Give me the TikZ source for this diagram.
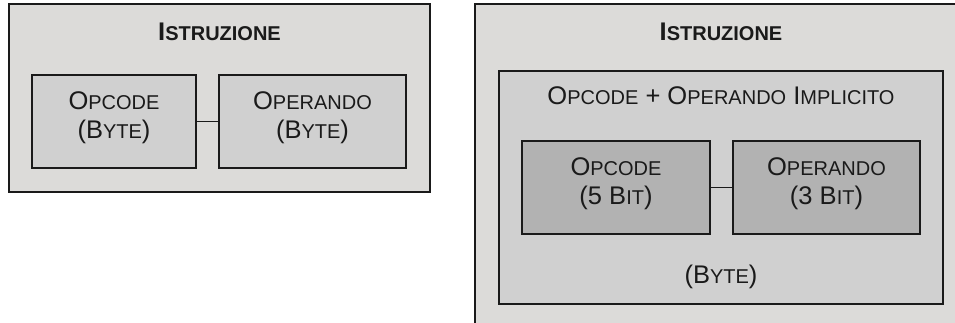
\documentclass[tikz,border=0pt]{standalone}
\usepackage{fontspec}
\setmainfont{Liberation Sans}
% reduced capitals for the small-caps look
\newcommand\smc[1]{{\fontsize{20}{20}\selectfont #1}}
\definecolor{outerfill}{HTML}{DCDBD9}
\definecolor{midfill}{HTML}{D0D0D0}
\definecolor{darkfill}{HTML}{B2B2B2}
\definecolor{ink}{HTML}{1A1A1A}
\tikzset{
  box/.style={draw=ink, line width=1.9pt, rectangle, inner sep=0pt},
  field/.style={box, fill=midfill},
  bitfield/.style={box, fill=darkfill},
  caption/.style={text=ink, align=center, inner sep=0pt,
    font=\fontsize{25.5}{29}\selectfont},
  title/.style={text=ink, inner sep=0pt, font=\bfseries\fontsize{25.5}{29}\selectfont},
  link/.style={draw=ink, line width=1.5pt}
}
\begin{document}
\begin{tikzpicture}[x=1pt,y=1pt]
\useasboundingbox (0,0) rectangle (955,323);
\clip (0,0) rectangle (955,323);
\fill[white] (0,0) rectangle (955,323);

% left: instruction made of two whole bytes
\node[box, fill=outerfill, minimum width=421pt, minimum height=188pt] (instrA) at (219.5,225) {};
\node[title] (titleA) at (219.5,291) {I\smc{STRUZIONE}};
\node[field, minimum width=164pt, minimum height=93pt] (opA) at (114,201.5) {};
\node[field, minimum width=187pt, minimum height=93pt] (argA) at (312.5,201.5) {};
\node[caption, yshift=3.5pt] (opAtext) at (opA.center) {O\smc{PCODE}\\(B\smc{YTE})};
\node[caption, yshift=3.5pt] (argAtext) at (argA.center) {O\smc{PERANDO}\\(B\smc{YTE})};
\draw[link] (opA.east) -- (argA.west);

% right: opcode and implicit operand packed into one byte
\node[box, fill=outerfill, minimum width=490pt, minimum height=331pt] (instrB) at (720,153.5) {};
\node[title] (titleB) at (721,291) {I\smc{STRUZIONE}};
\node[field, minimum width=444pt, minimum height=233pt] (byteB) at (721,135.5) {};
\node[caption] (headB) at (721,227.5) {O\smc{PCODE} + O\smc{PERANDO} I\smc{MPLICITO}};
\node[bitfield, minimum width=188pt, minimum height=93pt] (opB) at (616,135.5) {};
\node[bitfield, minimum width=187pt, minimum height=93pt] (argB) at (826.5,135.5) {};
\node[caption, yshift=3.5pt] (opBtext) at (opB.center) {O\smc{PCODE}\\(5 B\smc{IT})};
\node[caption, yshift=3.5pt] (argBtext) at (argB.center) {O\smc{PERANDO}\\(3 B\smc{IT})};
\draw[link] (opB.east) -- (argB.west);
\node[caption] (sizeB) at (721,46) {(B\smc{YTE})};
\end{tikzpicture}
\end{document}
